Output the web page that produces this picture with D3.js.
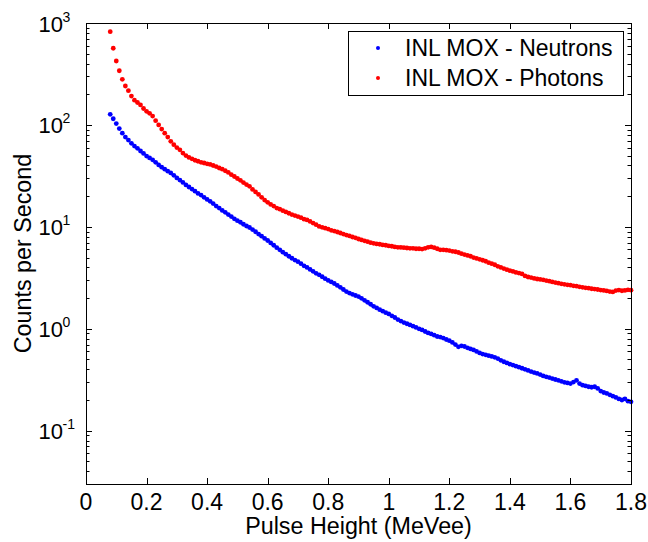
<!DOCTYPE html>
<html><head><meta charset="utf-8">
<script src="https://cdn.jsdelivr.net/npm/d3@7"></script>
<style>body{margin:0;background:#fff}svg{display:block}text{font-family:"Liberation Sans",Arial,sans-serif;fill:#000}</style>
</head><body><svg id="c" width="648" height="542"></svg>
<script>
const pulseHeight = [
0.08,0.09,
0.10,0.11,0.12,0.13,0.14,0.15,0.16,0.17,0.18,0.19,
0.20,0.21,0.22,0.23,0.24,0.25,0.26,0.27,0.28,0.29,
0.30,0.31,0.32,0.33,0.34,0.35,0.36,0.37,0.38,0.39,
0.40,0.41,0.42,0.43,0.44,0.45,0.46,0.47,0.48,0.49,
0.50,0.51,0.52,0.53,0.54,0.55,0.56,0.57,0.58,0.59,
0.60,0.61,0.62,0.63,0.64,0.65,0.66,0.67,0.68,0.69,
0.70,0.71,0.72,0.73,0.74,0.75,0.76,0.77,0.78,0.79,
0.80,0.81,0.82,0.83,0.84,0.85,0.86,0.87,0.88,0.89,
0.90,0.91,0.92,0.93,0.94,0.95,0.96,0.97,0.98,0.99,
1.00,1.01,1.02,1.03,1.04,1.05,1.06,1.07,1.08,1.09,
1.10,1.11,1.12,1.13,1.14,1.15,1.16,1.17,1.18,1.19,
1.20,1.21,1.22,1.23,1.24,1.25,1.26,1.27,1.28,1.29,
1.30,1.31,1.32,1.33,1.34,1.35,1.36,1.37,1.38,1.39,
1.40,1.41,1.42,1.43,1.44,1.45,1.46,1.47,1.48,1.49,
1.50,1.51,1.52,1.53,1.54,1.55,1.56,1.57,1.58,1.59,
1.60,1.61,1.62,1.63,1.64,1.65,1.66,1.67,1.68,1.69,
1.70,1.71,1.72,1.73,1.74,1.75,1.76,1.77,1.78,1.79,
1.80];
const neutrons = [
127,115,
103,92,83,76,71,66,62,59,55.5,52.5,
49.5,47.5,45.5,43,40.5,38.5,36.8,35.2,33.8,32,
30.2,28.8,27.3,25.8,24.6,23.5,22.4,21.3,20.5,19.5,
18.6,17.8,16.9,16.0,15.3,14.5,13.9,13.2,12.6,12.0,
11.5,11.1,10.6,10.2,9.85,9.4,8.95,8.5,8.1,7.7,
7.35,6.95,6.6,6.25,5.95,5.65,5.4,5.15,4.92,4.72,
4.55,4.35,4.15,4.0,3.82,3.66,3.5,3.38,3.24,3.1,
2.98,2.88,2.78,2.66,2.55,2.43,2.32,2.24,2.18,2.12,
2.07,1.99,1.9,1.82,1.74,1.66,1.6,1.54,1.49,1.44,
1.4,1.34,1.29,1.23,1.19,1.15,1.12,1.09,1.06,1.03,
1.0,0.975,0.94,0.91,0.89,0.865,0.84,0.83,0.81,0.785,
0.765,0.735,0.7,0.665,0.68,0.67,0.65,0.635,0.62,0.6,
0.58,0.565,0.555,0.545,0.535,0.525,0.51,0.49,0.475,0.462,
0.45,0.44,0.43,0.42,0.41,0.4,0.39,0.38,0.372,0.365,
0.355,0.345,0.338,0.332,0.325,0.318,0.312,0.305,0.298,0.294,
0.29,0.3,0.312,0.29,0.28,0.275,0.27,0.267,0.27,0.26,
0.245,0.237,0.232,0.225,0.218,0.212,0.205,0.2,0.205,0.195,
0.192];
const photons = [
822,565,
424,340,280,241,217,192,175,166,157,145,
136,130,122,110,100,91,83,76,69,64,
60,57,53,50,48,46.5,45,44,43,42.3,
41.5,41,40,39,37.8,36.8,35.5,34.2,32.5,31.2,
29.8,28.6,27.2,26,25,23.3,22,20.8,19.5,18.3,
17.4,16.6,16,15.3,14.9,14.4,14,13.6,13.2,12.9,
12.6,12.3,11.9,11.7,11.3,10.9,10.5,10.1,9.9,9.7,
9.5,9.25,9.1,8.9,8.7,8.5,8.3,8.15,7.95,7.8,
7.6,7.45,7.3,7.15,7.0,6.9,6.8,6.75,6.65,6.6,
6.5,6.45,6.35,6.3,6.28,6.25,6.2,6.15,6.15,6.1,
6.1,6.05,6.15,6.3,6.35,6.25,6.1,5.95,5.95,5.9,
5.85,5.75,5.7,5.6,5.45,5.35,5.25,5.15,5.0,4.9,
4.8,4.7,4.6,4.45,4.35,4.25,4.1,4.0,3.9,3.8,
3.72,3.65,3.57,3.52,3.45,3.3,3.22,3.18,3.12,3.08,
3.05,3.02,2.97,2.93,2.88,2.84,2.8,2.76,2.73,2.7,
2.68,2.64,2.62,2.58,2.55,2.52,2.5,2.47,2.45,2.43,
2.4,2.38,2.35,2.32,2.3,2.37,2.4,2.36,2.38,2.41,
2.39];
const seriesNames = ["INL MOX - Neutrons","INL MOX - Photons"];
const seriesColors = ["#0000ff","#ff0000"];
const xTicks = [0,0.2,0.4,0.6,0.8,1,1.2,1.4,1.6,1.8];
const yExponents = [-1,0,1,2,3];

const svg = d3.select("#c");
const L=86, R=631, T=23, B=484;
const x = d3.scaleLinear().domain([0,1.8]).range([L,R]);
const y = d3.scaleLog().domain([0.03,1000]).range([B,T]);

// data
const series=[neutrons,photons];
series.forEach((vals,si)=>{
  svg.append("g").selectAll("circle").data(vals).join("circle")
    .attr("cx",(d,i)=>x(pulseHeight[i])).attr("cy",d=>y(d))
    .attr("r",2.4).attr("fill",seriesColors[si]);
});

// axes box
const g=svg.append("g").attr("stroke","#000").attr("stroke-width",1).attr("fill","none");
g.append("rect").attr("x",L+0.5).attr("y",T+0.5).attr("width",R-L).attr("height",B-T);
const maj=6, mnr=3.5;
xTicks.forEach(t=>{
  const px=Math.round(x(t))+0.5;
  g.append("line").attr("x1",px).attr("x2",px).attr("y1",B).attr("y2",B-maj);
  g.append("line").attr("x1",px).attr("x2",px).attr("y1",T).attr("y2",T+maj);
});
const yt=[];
for(let e=-2;e<=2;e++) for(let m=1;m<=9;m++){const v=m*Math.pow(10,e); if(v>=0.03&&v<=1000) yt.push([v,m===1]);}
yt.push([1000,true]);
yt.forEach(([v,isMaj])=>{
  const py=Math.round(y(v))+0.5, len=isMaj?maj:mnr;
  g.append("line").attr("x1",L).attr("x2",L+len).attr("y1",py).attr("y2",py);
  g.append("line").attr("x1",R).attr("x2",R-len).attr("y1",py).attr("y2",py);
});

// tick labels
svg.append("g").selectAll("text").data(xTicks).join("text")
  .attr("x",d=>x(d)).attr("y",510).attr("text-anchor","middle").attr("font-size",23)
  .text(d=>String(d));
const yl=svg.append("g");
yExponents.forEach(e=>{
  const py=y(Math.pow(10,e));
  yl.append("text").attr("x",63).attr("y",py+8.5).attr("text-anchor","end").attr("font-size",22).text("10");
  yl.append("text").attr("x",62.5).attr("y",py-1.5).attr("font-size",14).text(String(e));
});

// axis titles
svg.append("text").attr("x",(L+R)/2).attr("y",534).attr("text-anchor","middle").attr("font-size",23.3).text("Pulse Height (MeVee)");
svg.append("text").attr("transform",`translate(31,${(T+B)/2}) rotate(-90)`).attr("text-anchor","middle").attr("font-size",23.3).text("Counts per Second");

// legend
const lg=svg.append("g");
lg.append("rect").attr("x",348.5).attr("y",31.5).attr("width",275).attr("height",64).attr("fill","#fff").attr("stroke","#000");
seriesNames.forEach((n,i)=>{
  const cy=48+i*30;
  lg.append("circle").attr("cx",378).attr("cy",cy).attr("r",2).attr("fill",seriesColors[i]);
  lg.append("text").attr("x",405).attr("y",cy+8).attr("font-size",23).text(n);
});
</script></body></html>
